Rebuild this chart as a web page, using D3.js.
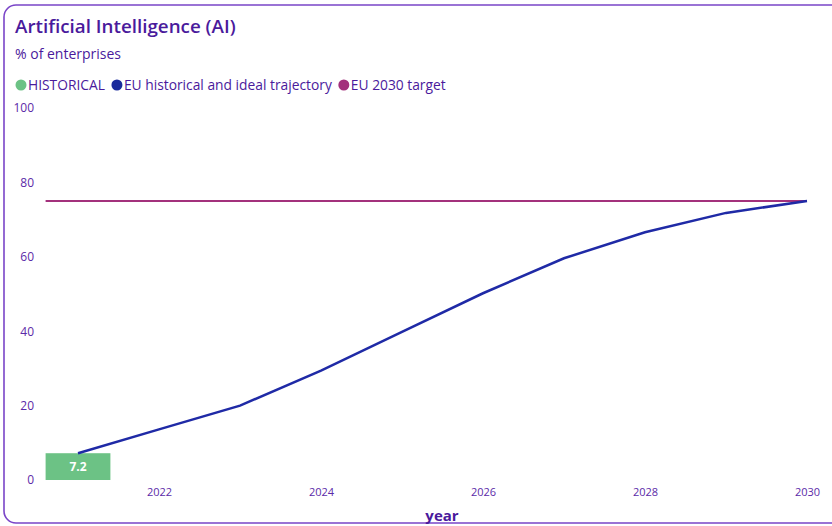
<!DOCTYPE html>
<html><head><meta charset="utf-8">
<script src="https://cdn.jsdelivr.net/npm/d3@7"></script>
<style>
html,body{margin:0;padding:0;background:#fff;overflow:hidden}
text{font-family:"Open Sans","Noto Sans",sans-serif}
</style></head>
<body><svg id="c" width="832" height="526"></svg>
<script>
const years = [2021,2022,2023,2024,2025,2026,2027,2028,2029,2030];
const trajectory = [7.2,13.6,20,29.4,39.8,50.2,59.6,66.6,71.8,75];
const historicalYears = [2021];
const historicalValues = [7.2];
const targetValue = 75;
const yTicks = [0,20,40,60,80,100];
const xTicks = [2022,2024,2026,2028,2030];
const legendItems = ["HISTORICAL","EU historical and ideal trajectory","EU 2030 target"];
const legendColors = ["#6cc285","#1a2a9c","#a3317c"];

const svg = d3.select("#c");
const txt = "#4a1a9c";
const tick = "#5b2aa8";

svg.append("rect").attr("x",4).attr("y",5).attr("width",860).attr("height",518)
  .attr("rx",12).attr("fill","none").attr("stroke","#7a45c8").attr("stroke-width",1.6);

svg.append("text").attr("x",15).attr("y",33).text("Artificial Intelligence (AI)")
  .attr("fill",txt).attr("font-size",18.8).attr("font-weight",600);
svg.append("text").attr("x",15).attr("y",59).text("% of enterprises")
  .attr("fill",txt).attr("font-size",14);

// legend
let lx = 15;
const lg = svg.append("g");
legendItems.forEach((t,i)=>{
  lg.append("circle").attr("cx",lx+6).attr("cy",85).attr("r",5.5).attr("fill",legendColors[i]);
  const tt = lg.append("text").attr("x",lx+13).attr("y",90).text(t).attr("fill",txt).attr("font-size",13.8);
  lx += 13 + tt.node().getComputedTextLength() + 6;
});

const x = d3.scaleLinear().domain([2021,2030]).range([78,807]);
const step = x(2022)-x(2021);
const bw = step*0.8;
const y = d3.scaleLinear().domain([0,100]).range([480,108]);

// y axis labels
const ya = svg.append("g").attr("transform","translate(34,0)")
  .call(d3.axisLeft(y).tickValues(yTicks).tickSize(0).tickPadding(0));
ya.select(".domain").remove();
ya.selectAll("text").attr("fill",tick).attr("font-size",12).attr("font-family","Open Sans, Noto Sans, sans-serif");

// x axis labels
const xa = svg.append("g").attr("transform","translate(0,484)")
  .call(d3.axisBottom(x).tickValues(xTicks).tickFormat(d3.format("d")).tickSize(0).tickPadding(4));
xa.select(".domain").remove();
xa.selectAll("text").attr("fill",tick).attr("font-size",11).attr("font-family","Open Sans, Noto Sans, sans-serif");

svg.append("text").attr("x",442).attr("y",521).attr("text-anchor","middle").text("year")
  .attr("fill",txt).attr("font-size",15).attr("font-weight",700);

// bars
svg.selectAll(".bar").data(historicalYears).join("rect")
  .attr("x",d=>x(d)-bw/2).attr("width",bw)
  .attr("y",(d,i)=>y(historicalValues[i])).attr("height",(d,i)=>y(0)-y(historicalValues[i]))
  .attr("fill",legendColors[0]);
svg.selectAll(".blab").data(historicalYears).join("text")
  .attr("x",d=>x(d)).attr("y",(d,i)=>(y(historicalValues[i])+y(0))/2+4.5)
  .attr("text-anchor","middle").attr("fill","#fff").attr("font-size",12).attr("font-weight",700)
  .text((d,i)=>historicalValues[i]);

// target line
svg.append("line").attr("x1",x(2021)-bw/2).attr("x2",x(2030))
  .attr("y1",y(targetValue)).attr("y2",y(targetValue))
  .attr("stroke",legendColors[2]).attr("stroke-width",2);

// trajectory
svg.append("path").datum(years.map((d,i)=>[d,trajectory[i]]))
  .attr("d",d3.line().x(d=>x(d[0])).y(d=>y(d[1])))
  .attr("fill","none").attr("stroke","#1f2aa6").attr("stroke-width",2.5);
</script></body></html>
